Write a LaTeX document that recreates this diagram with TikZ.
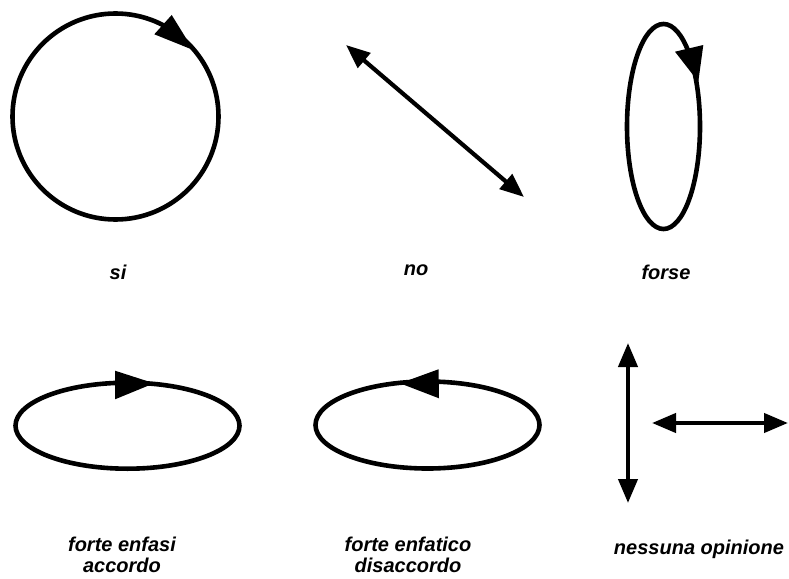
\documentclass[tikz,border=0pt]{standalone}
\usepackage{fontspec}
\setmainfont{Liberation Sans}
\usetikzlibrary{arrows.meta}

\tikzset{
  curva/.style={line width=4.6pt},
  freccia/.style={line width=4.2pt, {Triangle[length=24pt,width=19pt]}-{Triangle[length=24pt,width=19pt]}},
  etichetta/.style={font=\fontsize{20}{21}\selectfont\bfseries\itshape, inner sep=0pt, anchor=base, align=center}
}

\begin{document}
\begin{tikzpicture}[x=1pt, y=-1pt, line join=round, line cap=round]
  \useasboundingbox (0,0) rectangle (789,578);

  % Punti di riferimento (pixel, y verso il basso)
  \coordinate (C1) at (115.5,116.5);
  \coordinate (C2) at (663.5,126.5);
  \coordinate (C3) at (127.5,425.7);
  \coordinate (C4) at (427.5,425);

  \coordinate (No_A) at (346,45);
  \coordinate (No_B) at (524,197);
  \coordinate (V_A) at (628,343);
  \coordinate (V_B) at (628,503);
  \coordinate (H_A) at (652,423);
  \coordinate (H_B) at (788,423);

  % --- Riga 1 ---
  % si: cerchio, senso orario
  \draw[curva] (C1) circle[radius=103pt];
  \fill (171.7,15) -- (154.3,34.3) -- (193.3,50) -- cycle;
  % no: doppia freccia obliqua
  \draw[freccia] (No_A) -- (No_B);
  % forse: ellisse verticale, senso orario
  \draw[curva] (C2) ellipse[x radius=36.5pt, y radius=102.5pt];
  \fill (675,51.7) -- (703.3,45) -- (698.3,81.7) -- cycle;

  % --- Riga 2 ---
  % accordo: ellisse, verso destra
  \draw[curva] (C3) ellipse[x radius=112pt, y radius=43pt];
  \fill (115,370.7) -- (115,399.3) -- (154,383.3) -- cycle;
  % disaccordo: ellisse, verso sinistra
  \draw[curva] (C4) ellipse[x radius=112pt, y radius=43.5pt];
  \fill (438.5,369.3) -- (439,398.3) -- (400,383.3) -- cycle;
  % nessuna opinione: due frecce
  \draw[freccia] (V_A) -- (V_B);
  \draw[freccia] (H_A) -- (H_B);

  % --- Etichette ---
  \node[etichetta] (si) at (118,279) {si};
  \node[etichetta] (no) at (416,275) {no};
  \node[etichetta] (forse) at (666,279) {forse};
  \node[etichetta] (accordo) at (122,572) {forte enfasi\\accordo};
  \node[etichetta] (disaccordo) at (408,572) {forte enfatico\\disaccordo};
  \node[etichetta] (nessuna) at (699,554) {nessuna opinione};
\end{tikzpicture}
\end{document}
